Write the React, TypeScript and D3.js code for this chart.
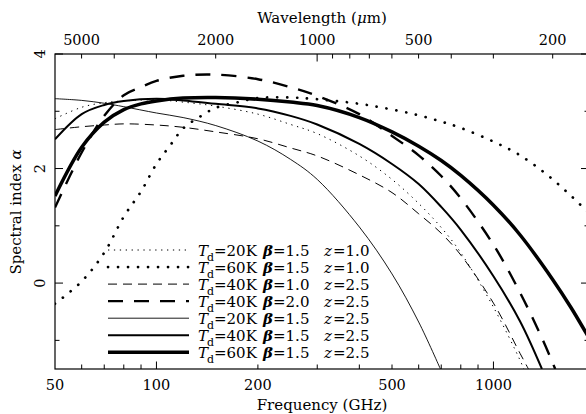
import React from 'react'
import * as d3 from 'd3'

// curves: frequency (GHz) and spectral index alpha
const nuA = [50, 60, 70, 80, 100, 120, 150, 200, 250, 300, 400, 500, 600, 700, 800, 1000, 1200, 1230]
const alphaA = [2.87, 3.07, 3.15, 3.18, 3.2, 3.16, 3.09, 2.95, 2.77, 2.61, 2.22, 1.81, 1.39, 0.97, 0.53, -0.42, -1.35, -1.5]

const nuB = [50, 60, 70, 80, 90, 100, 110, 120, 135, 150, 175, 200, 250, 300, 400, 500, 600, 700, 800, 1000, 1200, 1500, 1900]
const alphaB = [-0.36, 0.03, 0.53, 1.16, 1.6, 2.08, 2.41, 2.7, 2.91, 3.06, 3.16, 3.23, 3.24, 3.21, 3.13, 3.03, 2.93, 2.82, 2.71, 2.47, 2.23, 1.81, 1.25]

const nuC = [50, 60, 70, 80, 100, 120, 150, 200, 250, 300, 400, 500, 600, 700, 800, 1000, 1200, 1270]
const alphaC = [2.68, 2.73, 2.76, 2.78, 2.76, 2.72, 2.64, 2.52, 2.36, 2.22, 1.89, 1.58, 1.21, 0.87, 0.49, -0.35, -1.23, -1.5]

const nuD = [50, 60, 70, 80, 90, 100, 120, 150, 200, 250, 300, 400, 500, 600, 700, 800, 1000, 1200, 1400, 1525]
const alphaD = [1.32, 2.28, 2.92, 3.28, 3.42, 3.53, 3.62, 3.64, 3.56, 3.42, 3.27, 2.95, 2.57, 2.23, 1.87, 1.48, 0.67, -0.17, -0.99, -1.5]

const nuE = [50, 60, 70, 80, 100, 120, 150, 200, 250, 300, 400, 500, 600, 696]
const alphaE = [3.22, 3.19, 3.14, 3.08, 2.97, 2.89, 2.75, 2.48, 2.16, 1.81, 0.98, 0.16, -0.68, -1.5]

const nuF = [50, 60, 70, 80, 100, 120, 150, 200, 250, 300, 400, 500, 600, 700, 800, 1000, 1200, 1393]
const alphaF = [2.51, 2.95, 3.11, 3.18, 3.22, 3.19, 3.13, 3.05, 2.92, 2.77, 2.43, 2.08, 1.73, 1.33, 0.93, 0.12, -0.67, -1.5]

const nuG = [50, 60, 70, 80, 90, 100, 120, 150, 200, 250, 300, 400, 500, 600, 700, 800, 1000, 1200, 1500, 1700, 1900]
const alphaG = [1.52, 2.37, 2.81, 3.03, 3.13, 3.18, 3.23, 3.24, 3.21, 3.16, 3.1, 2.89, 2.64, 2.39, 2.14, 1.88, 1.36, 0.84, 0.06, -0.43, -0.91]

// legend text
const legendTd = ['20', '60', '40', '40', '20', '40', '60']
const legendBeta = ['1.5', '1.5', '1.0', '2.0', '1.5', '1.5', '1.5']
const legendZ = ['1.0', '1.0', '2.5', '2.5', '2.5', '2.5', '2.5']

// axis ticks
const freqLabels = [50, 100, 200, 500, 1000]
const freqMajor = [100, 1000]
const freqMinor = [60, 70, 80, 90, 200, 300, 400, 500, 600, 700, 800, 900]
const waveLabels = [5000, 2000, 1000, 500, 200]
const waveMajor = [1000]
const waveMinor = [5000, 4000, 3000, 2000, 900, 800, 700, 600, 500, 400, 300, 200]
const alphaMajor = [0, 2, 4]
const alphaMinor = [-1, 1, 3]

const C_UM_GHZ = 299792.458

const styles = [
  { width: 1, dash: '1.3 4.6', cap: 'butt' },
  { width: 2.7, dash: '0.1 9.9', cap: 'round' },
  { width: 1, dash: '9 6', cap: 'butt' },
  { width: 2.4, dash: '15 11', cap: 'butt' },
  { width: 0.9, dash: 'none', cap: 'butt' },
  { width: 2, dash: 'none', cap: 'butt' },
  { width: 3.5, dash: 'none', cap: 'butt' }
]

const W = 586
const H = 414
const left = 55
const right = 589
const top = 54
const bottom = 369
const FONT = "'DejaVu Serif', 'Liberation Serif', serif"

export default function App() {
  const x = d3.scaleLog().domain([50, 1921]).range([left, right])
  const y = d3.scaleLinear().domain([-1.5, 4]).range([bottom, top])

  const curves = [
    [nuA, alphaA], [nuB, alphaB], [nuC, alphaC], [nuD, alphaD],
    [nuE, alphaE], [nuF, alphaF], [nuG, alphaG]
  ]

  const line = d3.line<[number, number]>()
    .x(d => x(d[0]))
    .y(d => y(d[1]))
    .curve(d3.curveCatmullRom.alpha(0.5))

  const legendY = (i: number) => 250 + i * 17.05

  return (
    <svg width={W} height={H} style={{ position: 'absolute', left: 0, top: 0, background: '#fff', fontFamily: FONT }}>
      <defs>
        <clipPath id="plot">
          <rect x={left} y={top} width={right - left} height={bottom - top} />
        </clipPath>
      </defs>
      <rect x={0} y={0} width={W} height={H} fill="#fff" />

      <g clipPath="url(#plot)" fill="none" stroke="#000">
        {curves.map(([nu, al], i) => (
          <path key={i}
            d={line(nu.map((n, j) => [n, al[j]] as [number, number])) || ''}
            strokeWidth={styles[i].width}
            strokeDasharray={styles[i].dash}
            strokeLinecap={styles[i].cap as any} />
        ))}
      </g>

      {/* frame */}
      <rect x={left} y={top} width={right - left} height={bottom - top} fill="none" stroke="#000" strokeWidth={1.2} />

      {/* ticks */}
      <g stroke="#000" strokeWidth={1}>
        {freqMajor.map(v => <line key={'fM' + v} x1={x(v)} x2={x(v)} y1={bottom} y2={bottom - 7.5} />)}
        {freqMinor.map(v => <line key={'fm' + v} x1={x(v)} x2={x(v)} y1={bottom} y2={bottom - 4.5} />)}
        {waveMajor.map(v => <line key={'wM' + v} x1={x(C_UM_GHZ / v)} x2={x(C_UM_GHZ / v)} y1={top} y2={top + 7.5} />)}
        {waveMinor.map(v => <line key={'wm' + v} x1={x(C_UM_GHZ / v)} x2={x(C_UM_GHZ / v)} y1={top} y2={top + 4.5} />)}
        {alphaMajor.map(v => <line key={'aM' + v} x1={left} x2={left + 8} y1={y(v)} y2={y(v)} />)}
        {alphaMinor.map(v => <line key={'am' + v} x1={left} x2={left + 4.5} y1={y(v)} y2={y(v)} />)}
        {alphaMajor.map(v => <line key={'rM' + v} x1={right} x2={right - 8} y1={y(v)} y2={y(v)} />)}
        {alphaMinor.map(v => <line key={'rm' + v} x1={right} x2={right - 4.5} y1={y(v)} y2={y(v)} />)}
      </g>

      <g fill="#000" textAnchor="middle" style={{ fontFamily: FONT }}>
        {freqLabels.map(v => <text key={'fl' + v} x={x(v)} y={390} fontSize={14.5}>{v}</text>)}
        {waveLabels.map(v => <text key={'wl' + v} x={x(C_UM_GHZ / v)} y={45} fontSize={14.5}>{v}</text>)}
        {alphaMajor.map(v => (
          <text key={'al' + v} transform={`translate(45,${y(v)}) rotate(-90)`} fontSize={14.5}>{v}</text>
        ))}
        <text x={322} y={410} fontSize={15}>Frequency (GHz)</text>
        <text x={322} y={23} fontSize={15}>Wavelength (<tspan fontStyle="italic">μ</tspan>m)</text>
        <text transform="translate(21,212) rotate(-90)" fontSize={15}>Spectral index <tspan fontStyle="italic">α</tspan></text>
      </g>

      {/* legend */}
      <g style={{ fontFamily: FONT }}>
        {styles.map((s, i) => (
          <line key={'ll' + i} x1={108} x2={189} y1={legendY(i)} y2={legendY(i)}
            stroke="#000" strokeWidth={s.width} strokeDasharray={s.dash} strokeLinecap={s.cap as any} />
        ))}
        {legendTd.map((td, i) => (
          <g key={'lt' + i} fill="#000" fontSize={15}>
            <text x={198} y={legendY(i) + 5.5} fontStyle="italic">T</text>
            <text x={207} y={legendY(i) + 10.5} fontSize={11}>d</text>
            <text x={214} y={legendY(i) + 5.5}>{'=' + td + 'K'}</text>
            <text x={263} y={legendY(i) + 5.5} fontWeight="bold" fontStyle="italic">β</text>
            <text x={273} y={legendY(i) + 5.5}>{'=' + legendBeta[i]}</text>
            <text x={324} y={legendY(i) + 5.5} fontStyle="italic">z</text>
            <text x={333} y={legendY(i) + 5.5}>{'=' + legendZ[i]}</text>
          </g>
        ))}
      </g>
    </svg>
  )
}
